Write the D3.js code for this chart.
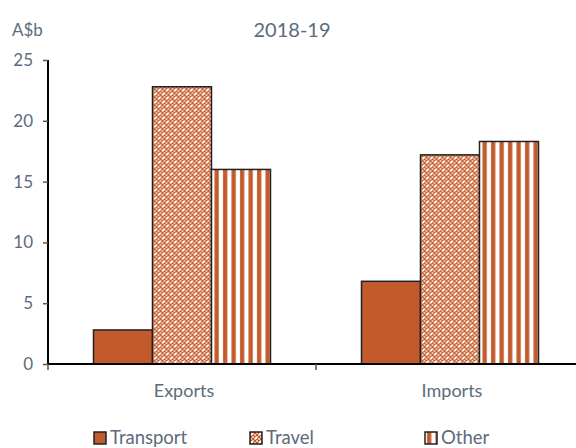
<!DOCTYPE html>
<html>
<head>
<meta charset="utf-8">
<script src="https://cdn.jsdelivr.net/npm/d3@7"></script>
<style>
  body { margin: 0; background: #fff; }
  text { font-family: Lato, "Open Sans", sans-serif; fill: #5d6b7b; }
</style>
</head>
<body>
<svg id="chart" width="576" height="448"></svg>
<script>
let categories = ["Exports", "Imports"]
let seriesNames = ["Transport", "Travel", "Other"]
let transport = [2.8, 6.8]
let travel = [22.8, 17.2]
let other = [16.0, 18.3]
let yTicks = [0, 5, 10, 15, 20, 25]

let orange = "#c35a2b"

let svg = d3.select("#chart")
let defs = svg.append("defs")

// checkered pattern for Travel
let chk = defs.append("pattern").attr("id", "pat-travel")
    .attr("patternUnits", "userSpaceOnUse").attr("width", 8).attr("height", 8)
chk.append("rect").attr("width", 8).attr("height", 8).attr("fill", "#fff")
for (let i = 0; i < 4; i++) {
    for (let j = 0; j < 4; j++) {
        let c = (i + j) % 2 == 0 ? orange : "#eec3ae"
        chk.append("rect").attr("x", i * 2).attr("y", j * 2)
            .attr("width", 2).attr("height", 2).attr("fill", c)
    }
}
chk.append("rect").attr("x", 1).attr("y", 1).attr("width", 2).attr("height", 2).attr("fill", "#fff")
chk.append("rect").attr("x", 5).attr("y", 5).attr("width", 2).attr("height", 2).attr("fill", "#fff")

// vertical stripes for Other
let str = defs.append("pattern").attr("id", "pat-other")
    .attr("patternUnits", "userSpaceOnUse").attr("width", 8.5).attr("height", 8)
str.append("rect").attr("width", 8.5).attr("height", 8).attr("fill", "#fff")
str.append("rect").attr("x", 2).attr("width", 4.3).attr("height", 8).attr("fill", orange)

let fills = [orange, "url(#pat-travel)", "url(#pat-other)"]
let seriesData = [transport, travel, other]

let mLeft = 48, mRight = 584, mTop = 60, mBottom = 364

let x = d3.scaleBand().domain(categories).range([mLeft, mRight])
let xInner = d3.scaleBand().domain(seriesNames).range([0, 177])
let y = d3.scaleLinear().domain([0, 25]).range([mBottom, mTop])

// bars
let groups = svg.selectAll(".grp")
    .data(categories)
    .enter()
    .append("g")
    .attr("class", "grp")
    .attr("transform", d => "translate(" + (x(d) + x.bandwidth() / 2 - 88.5) + ",0)")

groups.selectAll("rect")
    .data((c, ci) => seriesNames.map((s, si) => ({s: s, si: si, v: seriesData[si][ci]})))
    .enter()
    .append("rect")
    .attr("x", d => xInner(d.s))
    .attr("width", xInner.bandwidth())
    .attr("y", d => y(d.v))
    .attr("height", d => y(0) - y(d.v))
    .attr("fill", d => fills[d.si])
    .attr("stroke", "#222")
    .attr("stroke-width", 1.5)

// y axis
let yAxis = svg.append("g")
    .attr("transform", "translate(" + mLeft + ",0)")
    .call(d3.axisLeft(y).tickValues(yTicks).tickSize(5).tickPadding(10))
yAxis.select(".domain").attr("stroke", "#000").attr("stroke-width", 2).attr("d", "M0," + mTop + "V" + mBottom)
yAxis.selectAll(".tick line").attr("stroke", "#555").attr("stroke-width", 1.5)
yAxis.selectAll(".tick text").style("font-size", "17px").style("fill", "#5d6b7b")

// x axis
let xAxis = svg.append("g").attr("transform", "translate(0," + mBottom + ")")
xAxis.append("line").attr("x1", mLeft).attr("x2", 576).attr("stroke", "#000").attr("stroke-width", 2)
xAxis.selectAll(".xt")
    .data([mLeft, x(categories[1])])
    .enter()
    .append("line")
    .attr("x1", d => d).attr("x2", d => d)
    .attr("y1", 0).attr("y2", 6)
    .attr("stroke", "#555").attr("stroke-width", 1.5)
xAxis.selectAll(".xl")
    .data(categories)
    .enter()
    .append("text")
    .attr("x", d => x(d) + x.bandwidth() / 2 + 2)
    .attr("y", 33)
    .attr("text-anchor", "middle")
    .style("font-size", "18px")
    .text(d => d)

// titles
svg.append("text").attr("x", 292).attr("y", 37).attr("text-anchor", "middle")
    .style("font-size", "20px").text("2018-19")
svg.append("text").attr("x", 12).attr("y", 36)
    .style("font-size", "17px").text("A$b")

// legend
let legendX = [94, 250, 425]
let leg = svg.selectAll(".leg")
    .data(seriesNames)
    .enter()
    .append("g")
    .attr("transform", (d, i) => "translate(" + legendX[i] + ",432)")
leg.append("rect")
    .attr("width", 12).attr("height", 12)
    .attr("fill", (d, i) => fills[i])
    .attr("stroke", "#222").attr("stroke-width", 1.5)
leg.append("text")
    .attr("x", 16).attr("y", 12)
    .style("font-size", "18.5px")
    .text(d => d)
</script>
</body>
</html>
